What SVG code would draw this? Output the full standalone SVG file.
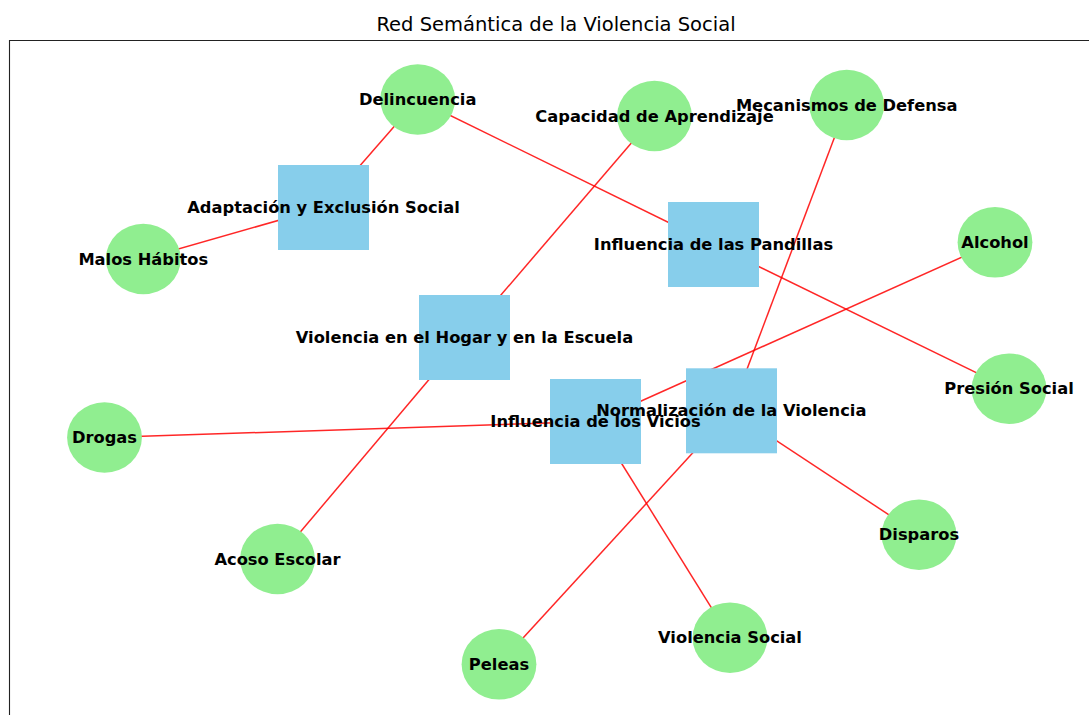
<svg xmlns="http://www.w3.org/2000/svg" width="1089" height="715" viewBox="0 0 1089 715">
<style>
.title{font-family:"DejaVu Sans",sans-serif;font-size:19.5px;fill:#000;text-anchor:middle}
.lbl{font-family:"DejaVu Sans",sans-serif;font-weight:bold;font-size:16.3px;fill:#000;text-anchor:middle}
.sq{fill:#87CEEB}
.ci{fill:#90EE90}
.edge{stroke:#ff0000;stroke-width:1.5;stroke-opacity:0.85;fill:none}
</style>
<rect width="1089" height="715" fill="#ffffff"/>
<text class="title" x="556" y="31">Red Semántica de la Violencia Social</text>
<path d="M9.5 715 V40.5 H1089" fill="none" stroke="#222" stroke-width="1.1"/>
<g id="connectors">
<line class="edge" x1="323.5" y1="207.5" x2="417.7" y2="99.5"/>
<line class="edge" x1="323.5" y1="207.5" x2="143.3" y2="259"/>
<line class="edge" x1="713.5" y1="244.5" x2="417.7" y2="99.5"/>
<line class="edge" x1="713.5" y1="244.5" x2="1009" y2="388.7"/>
<line class="edge" x1="464.5" y1="337.5" x2="654.5" y2="116"/>
<line class="edge" x1="464.5" y1="337.5" x2="277.5" y2="559"/>
<line class="edge" x1="595.5" y1="421.5" x2="995" y2="242.3"/>
<line class="edge" x1="595.5" y1="421.5" x2="104.5" y2="437.5"/>
<line class="edge" x1="595.5" y1="421.5" x2="730" y2="637.7"/>
<line class="edge" x1="731.3" y1="410.8" x2="846.7" y2="105"/>
<line class="edge" x1="731.3" y1="410.8" x2="919" y2="534.7"/>
<line class="edge" x1="731.3" y1="410.8" x2="499" y2="664.3"/>
</g>
<g id="n-adaptacion"><rect class="sq" x="278" y="165" width="91" height="85"/></g>
<g id="n-pandillas"><rect class="sq" x="668" y="202" width="91" height="85"/></g>
<g id="n-hogar"><rect class="sq" x="419" y="295" width="91" height="85"/></g>
<g id="n-vicios"><rect class="sq" x="550" y="379" width="91" height="85"/></g>
<g id="n-normalizacion"><rect class="sq" x="686" y="368.3" width="91" height="85"/></g>
<g id="n-delincuencia"><ellipse class="ci" cx="417.7" cy="99.5" rx="37.4" ry="35.3"/></g>
<g id="n-capacidad"><ellipse class="ci" cx="654.5" cy="116" rx="37.4" ry="35.3"/></g>
<g id="n-mecanismos"><ellipse class="ci" cx="846.7" cy="105" rx="37.4" ry="35.3"/></g>
<g id="n-alcohol"><ellipse class="ci" cx="995" cy="242.3" rx="37.4" ry="35.3"/></g>
<g id="n-presion"><ellipse class="ci" cx="1009" cy="388.7" rx="37.4" ry="35.3"/></g>
<g id="n-malos"><ellipse class="ci" cx="143.3" cy="259" rx="37.4" ry="35.3"/></g>
<g id="n-drogas"><ellipse class="ci" cx="104.5" cy="437.5" rx="37.4" ry="35.3"/></g>
<g id="n-acoso"><ellipse class="ci" cx="277.5" cy="559" rx="37.4" ry="35.3"/></g>
<g id="n-peleas"><ellipse class="ci" cx="499" cy="664.3" rx="37.4" ry="35.3"/></g>
<g id="n-violsocial"><ellipse class="ci" cx="730" cy="637.7" rx="37.4" ry="35.3"/></g>
<g id="n-disparos"><ellipse class="ci" cx="919" cy="534.7" rx="37.4" ry="35.3"/></g>
<g id="labels">
<text class="lbl" x="323.5" y="213">Adaptación y Exclusión Social</text>
<text class="lbl" x="713.5" y="250">Influencia de las Pandillas</text>
<text class="lbl" x="464.5" y="343">Violencia en el Hogar y en la Escuela</text>
<text class="lbl" x="595.5" y="427">Influencia de los Vicios</text>
<text class="lbl" x="731.3" y="416.3">Normalización de la Violencia</text>
<text class="lbl" x="417.7" y="105">Delincuencia</text>
<text class="lbl" x="654.5" y="121.5">Capacidad de Aprendizaje</text>
<text class="lbl" x="846.7" y="110.5">Mecanismos de Defensa</text>
<text class="lbl" x="995" y="247.8">Alcohol</text>
<text class="lbl" x="1009" y="394.2">Presión Social</text>
<text class="lbl" x="143.3" y="264.5">Malos Hábitos</text>
<text class="lbl" x="104.5" y="443">Drogas</text>
<text class="lbl" x="277.5" y="564.5">Acoso Escolar</text>
<text class="lbl" x="499" y="669.8">Peleas</text>
<text class="lbl" x="730" y="643.2">Violencia Social</text>
<text class="lbl" x="919" y="540.2">Disparos</text>
</g>
</svg>
